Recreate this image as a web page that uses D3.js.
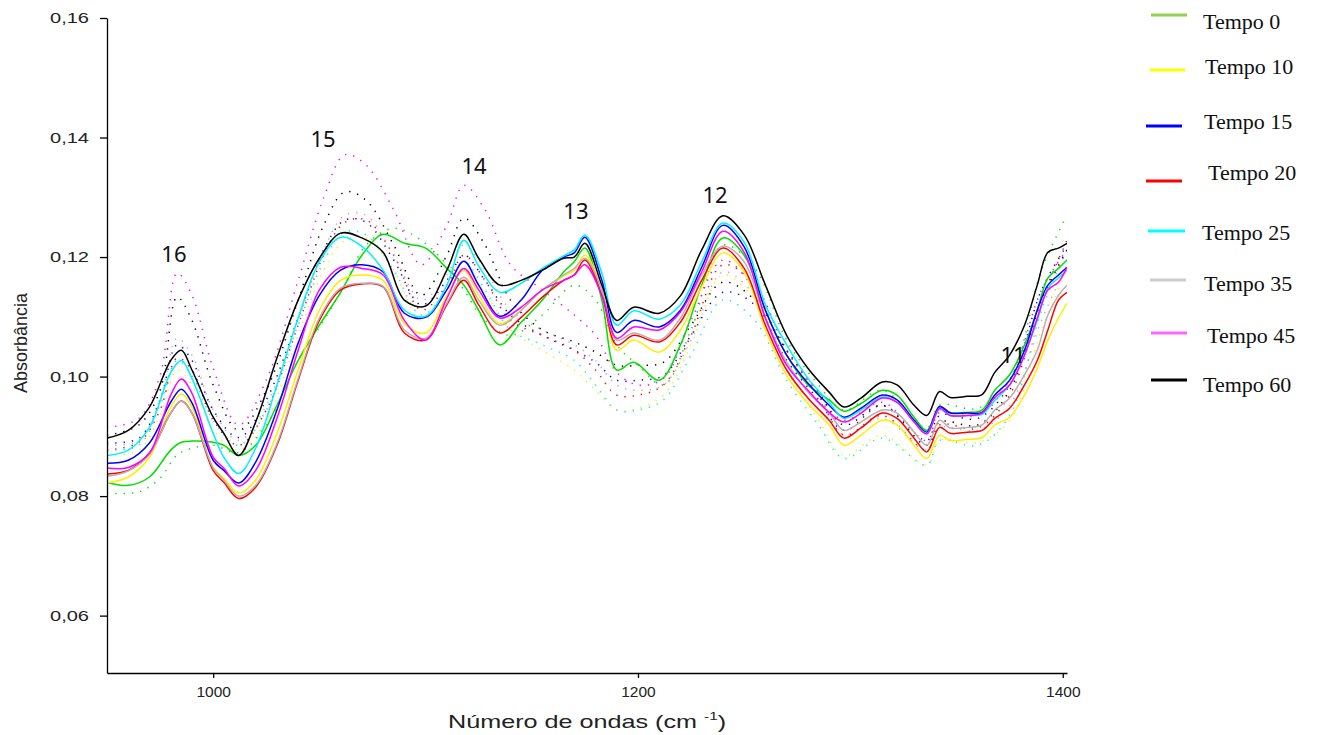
<!DOCTYPE html>
<html>
<head>
<meta charset="utf-8">
<script src="https://cdn.jsdelivr.net/npm/d3@7"></script>
<style>
  html, body { margin: 0; padding: 0; background: #fff; }
  svg { display: block; }
</style>
</head>
<body>
<svg id="chart"></svg>
<script>
(function() {

    // Data
    const seriesNames = ['Tempo 0', 'Tempo 10', 'Tempo 15', 'Tempo 20', 'Tempo 25', 'Tempo 35', 'Tempo 45', 'Tempo 60'];

    const wavenumbers = [950, 960, 970, 980, 985, 990, 1000, 1005, 1012, 1020,
        1030, 1040, 1050, 1060, 1070, 1080, 1090, 1100, 1110, 1118,
        1125, 1135, 1145, 1155, 1165, 1170, 1175, 1183, 1190, 1198,
        1210, 1220, 1230, 1240, 1250, 1260, 1270, 1280, 1290, 1297,
        1305, 1315, 1322, 1330, 1336, 1342, 1347, 1355, 1362, 1368,
        1375, 1382, 1388, 1393, 1398, 1402];

    const tempo0 = [0.0823, 0.0818, 0.0832, 0.0877, 0.0890, 0.0892, 0.0890, 0.0885, 0.0868, 0.0885,
        0.0952, 0.1027, 0.1086, 0.1141, 0.1203, 0.1238, 0.1223, 0.1215, 0.1181, 0.1153,
        0.1111, 0.1053, 0.1091, 0.1128, 0.1175, 0.1192, 0.1215, 0.1128, 0.1011, 0.1024,
        0.0994, 0.1053, 0.1153, 0.1232, 0.1203, 0.1111, 0.1036, 0.0986, 0.0961, 0.0942,
        0.0955, 0.0977, 0.0969, 0.0932, 0.0910, 0.0950, 0.0940, 0.0940, 0.0944, 0.0977,
        0.1003, 0.1053, 0.1111, 0.1165, 0.1181, 0.1195];

    const tempo10 = [0.0822, 0.0832, 0.0865, 0.0949, 0.0971, 0.0949, 0.0848, 0.0830, 0.0805, 0.0827,
        0.0905, 0.1011, 0.1111, 0.1161, 0.1170, 0.1161, 0.1089, 0.1073, 0.1136, 0.1178,
        0.1136, 0.1089, 0.1111, 0.1145, 0.1168, 0.1178, 0.1203, 0.1145, 0.1044, 0.1061,
        0.1041, 0.1078, 0.1150, 0.1207, 0.1175, 0.1078, 0.1002, 0.0955, 0.0919, 0.0885,
        0.0902, 0.0927, 0.0919, 0.0885, 0.0863, 0.0902, 0.0893, 0.0895, 0.0898, 0.0919,
        0.0932, 0.0969, 0.1014, 0.1061, 0.1098, 0.1123];

    const tempo15 = [0.0855, 0.0860, 0.0889, 0.0957, 0.0979, 0.0956, 0.0860, 0.0843, 0.0822, 0.0857,
        0.0944, 0.1056, 0.1136, 0.1178, 0.1187, 0.1175, 0.1106, 0.1099, 0.1145, 0.1193,
        0.1153, 0.1101, 0.1128, 0.1178, 0.1200, 0.1207, 0.1233, 0.1161, 0.1074, 0.1094,
        0.1083, 0.1111, 0.1183, 0.1253, 0.1217, 0.1111, 0.1036, 0.0989, 0.0952, 0.0932,
        0.0947, 0.0969, 0.0961, 0.0927, 0.0907, 0.0950, 0.0939, 0.0939, 0.0940, 0.0969,
        0.0994, 0.1044, 0.1111, 0.1153, 0.1170, 0.1183];

    const tempo20 = [0.0837, 0.0843, 0.0872, 0.0939, 0.0959, 0.0939, 0.0843, 0.0823, 0.0796, 0.0815,
        0.0885, 0.0994, 0.1094, 0.1145, 0.1155, 0.1150, 0.1073, 0.1061, 0.1120, 0.1161,
        0.1120, 0.1073, 0.1099, 0.1133, 0.1161, 0.1170, 0.1195, 0.1136, 0.1053, 0.1069,
        0.1058, 0.1091, 0.1161, 0.1215, 0.1181, 0.1086, 0.1011, 0.0964, 0.0927, 0.0897,
        0.0914, 0.0939, 0.0930, 0.0897, 0.0874, 0.0915, 0.0905, 0.0907, 0.0910, 0.0930,
        0.0947, 0.0986, 0.1027, 0.1078, 0.1128, 0.1141];

    const tempo25 = [0.0868, 0.0877, 0.0915, 0.1007, 0.1027, 0.0997, 0.0905, 0.0865, 0.0838, 0.0880,
        0.0986, 0.1098, 0.1192, 0.1233, 0.1218, 0.1178, 0.1111, 0.1101, 0.1153, 0.1228,
        0.1185, 0.1141, 0.1156, 0.1181, 0.1202, 0.1212, 0.1237, 0.1173, 0.1086, 0.1110,
        0.1096, 0.1120, 0.1192, 0.1257, 0.1225, 0.1120, 0.1053, 0.0997, 0.0957, 0.0930,
        0.0944, 0.0966, 0.0957, 0.0924, 0.0905, 0.0945, 0.0935, 0.0935, 0.0937, 0.0960,
        0.0986, 0.1036, 0.1094, 0.1148, 0.1165, 0.1178];

    const tempo35 = [0.0833, 0.0842, 0.0870, 0.0939, 0.0959, 0.0939, 0.0847, 0.0827, 0.0800, 0.0818,
        0.0888, 0.0997, 0.1098, 0.1148, 0.1156, 0.1151, 0.1078, 0.1064, 0.1123, 0.1166,
        0.1128, 0.1086, 0.1111, 0.1145, 0.1170, 0.1181, 0.1198, 0.1145, 0.1061, 0.1073,
        0.1061, 0.1098, 0.1170, 0.1218, 0.1192, 0.1098, 0.1024, 0.0974, 0.0939, 0.0910,
        0.0924, 0.0944, 0.0939, 0.0907, 0.0885, 0.0927, 0.0914, 0.0915, 0.0919, 0.0944,
        0.0964, 0.1003, 0.1044, 0.1103, 0.1136, 0.1153];

    const tempo45 = [0.0847, 0.0848, 0.0872, 0.0969, 0.0996, 0.0972, 0.0865, 0.0847, 0.0817, 0.0843,
        0.0930, 0.1044, 0.1145, 0.1183, 0.1181, 0.1170, 0.1094, 0.1061, 0.1131, 0.1181,
        0.1145, 0.1098, 0.1116, 0.1145, 0.1161, 0.1170, 0.1187, 0.1136, 0.1064, 0.1083,
        0.1078, 0.1108, 0.1175, 0.1243, 0.1208, 0.1098, 0.1019, 0.0977, 0.0940, 0.0924,
        0.0939, 0.0964, 0.0957, 0.0924, 0.0904, 0.0947, 0.0935, 0.0935, 0.0939, 0.0965,
        0.0986, 0.1036, 0.1098, 0.1145, 0.1158, 0.1183];

    const tempo60 = [0.0897, 0.0910, 0.0949, 0.1027, 0.1044, 0.1011, 0.0932, 0.0905, 0.0868, 0.0924,
        0.1031, 0.1128, 0.1198, 0.1240, 0.1232, 0.1208, 0.1128, 0.1118, 0.1178, 0.1238,
        0.1198, 0.1153, 0.1161, 0.1178, 0.1198, 0.1200, 0.1223, 0.1153, 0.1094, 0.1116,
        0.1106, 0.1135, 0.1212, 0.1269, 0.1237, 0.1153, 0.1069, 0.1014, 0.0974, 0.0949,
        0.0964, 0.0991, 0.0986, 0.0952, 0.0935, 0.0975, 0.0965, 0.0967, 0.0970, 0.1007,
        0.1036, 0.1086, 0.1153, 0.1208, 0.1215, 0.1223];

    // dotted companions of every series
    const wavenumbersDotted = [950, 965, 975, 983, 990, 1000, 1012, 1025, 1040, 1052,
        1062, 1072, 1085, 1098, 1110, 1118, 1128, 1140, 1155, 1170,
        1180, 1190, 1200, 1212, 1225, 1240, 1255, 1270, 1285, 1297,
        1315, 1336, 1342, 1360, 1375, 1390, 1402];

    const tempo0Dotted = [0.0805, 0.0807, 0.0830, 0.0869, 0.0880, 0.0885, 0.0873, 0.0919, 0.1027, 0.1094,
        0.1153, 0.1220, 0.1248, 0.1228, 0.1187, 0.1145, 0.1094, 0.1069, 0.1103, 0.1153,
        0.1128, 0.1053, 0.1019, 0.0986, 0.1078, 0.1220, 0.1181, 0.1061, 0.0986, 0.0944,
        0.0977, 0.0914, 0.0952, 0.0947, 0.0994, 0.1178, 0.1270];

    const tempo10Dotted = [0.0868, 0.0877, 0.0935, 0.1011, 0.0986, 0.0910, 0.0877, 0.0927, 0.1069, 0.1178,
        0.1228, 0.1232, 0.1178, 0.1094, 0.1136, 0.1181, 0.1141, 0.1078, 0.1044, 0.1011,
        0.0977, 0.0944, 0.0947, 0.0969, 0.1053, 0.1170, 0.1128, 0.1011, 0.0927, 0.0868,
        0.0902, 0.0852, 0.0893, 0.0890, 0.0927, 0.1078, 0.1178];

    const tempo15Dotted = [0.0889, 0.0897, 0.0961, 0.1053, 0.1027, 0.0944, 0.0898, 0.0961, 0.1098, 0.1212,
        0.1262, 0.1258, 0.1195, 0.1120, 0.1161, 0.1203, 0.1161, 0.1103, 0.1069, 0.1044,
        0.1024, 0.0994, 0.0994, 0.1002, 0.1069, 0.1141, 0.1120, 0.1027, 0.0961, 0.0910,
        0.0952, 0.0893, 0.0935, 0.0930, 0.0986, 0.1145, 0.1220];

    const tempo20Dotted = [0.0877, 0.0890, 0.0944, 0.1031, 0.1011, 0.0927, 0.0885, 0.0944, 0.1086, 0.1203,
        0.1258, 0.1262, 0.1203, 0.1111, 0.1153, 0.1203, 0.1161, 0.1094, 0.1069, 0.1044,
        0.1011, 0.0969, 0.0969, 0.0986, 0.1069, 0.1187, 0.1153, 0.1044, 0.0969, 0.0902,
        0.0935, 0.0877, 0.0919, 0.0914, 0.0969, 0.1128, 0.1228];

    const tempo25Dotted = [0.0877, 0.0885, 0.0952, 0.1027, 0.1002, 0.0927, 0.0885, 0.0944, 0.1086, 0.1192,
        0.1242, 0.1237, 0.1178, 0.1103, 0.1145, 0.1192, 0.1145, 0.1078, 0.1053, 0.1027,
        0.0986, 0.0944, 0.0944, 0.0961, 0.1036, 0.1128, 0.1094, 0.0994, 0.0919, 0.0863,
        0.0897, 0.0852, 0.0893, 0.0885, 0.0935, 0.1111, 0.1212];

    const tempo35Dotted = [0.0885, 0.0893, 0.0961, 0.1064, 0.1036, 0.0944, 0.0893, 0.0952, 0.1094, 0.1212,
        0.1270, 0.1270, 0.1203, 0.1128, 0.1170, 0.1220, 0.1178, 0.1111, 0.1078, 0.1053,
        0.1027, 0.0986, 0.0977, 0.0986, 0.1061, 0.1175, 0.1136, 0.1036, 0.0969, 0.0902,
        0.0930, 0.0877, 0.0914, 0.0910, 0.0952, 0.1094, 0.1187];

    const tempo45Dotted = [0.0915, 0.0930, 0.1002, 0.1173, 0.1136, 0.1014, 0.0919, 0.0994, 0.1161, 0.1299,
        0.1371, 0.1354, 0.1279, 0.1187, 0.1253, 0.1320, 0.1279, 0.1187, 0.1145, 0.1103,
        0.1069, 0.1007, 0.0986, 0.0997, 0.1094, 0.1195, 0.1145, 0.1036, 0.0969, 0.0927,
        0.0957, 0.0893, 0.0940, 0.0935, 0.0994, 0.1145, 0.1212];

    const tempo60Dotted = [0.0902, 0.0919, 0.0977, 0.1133, 0.1094, 0.0986, 0.0910, 0.0977, 0.1128, 0.1253,
        0.1309, 0.1295, 0.1220, 0.1136, 0.1203, 0.1265, 0.1220, 0.1128, 0.1078, 0.1058,
        0.1041, 0.1019, 0.1019, 0.1024, 0.1086, 0.1158, 0.1128, 0.1044, 0.0974, 0.0919,
        0.0952, 0.0885, 0.0924, 0.0919, 0.0977, 0.1128, 0.1212];

    const solidSeries = [tempo0, tempo10, tempo15, tempo20, tempo25, tempo35, tempo45, tempo60];
    const dottedSeries = [tempo0Dotted, tempo10Dotted, tempo15Dotted, tempo20Dotted,
        tempo25Dotted, tempo35Dotted, tempo45Dotted, tempo60Dotted];

    const xTicks = [1000, 1200, 1400];
    const yTicks = [0.06, 0.08, 0.10, 0.12, 0.14, 0.16];

    const peakLabels = ['16', '15', '14', '13', '12', '11'];
    const peakWavenumbers = [981.5, 1051.7, 1122.8, 1170.8, 1236.3, 1376.6];
    const peakAbsorbances = [0.1192, 0.1384, 0.1339, 0.1264, 0.1290, 0.1023];

    // Styles
    const lineColors = ['#00e000', '#ffee00', '#0000ff', '#ff0000', '#00f0ff', '#bcaeae', '#ff00ff', '#000000'];
    const legendColors = ['#92d050', '#ffff00', '#0000ff', '#ff0000', '#00ffff', '#cccccc', '#ff66ff', '#000000'];
    // legend rows are not evenly spaced in the original
    const legendLineY = [15, 70, 126, 181, 231, 280, 333, 380];
    const legendLineX = [[1151, 1187], [1150, 1185], [1146, 1182], [1146, 1182], [1148, 1185], [1150, 1186], [1151, 1187], [1151, 1187]];
    const legendTextX = [1203, 1205, 1204, 1208, 1202, 1204, 1207, 1203];
    const legendTextY = [29, 74, 129, 180, 240, 291, 343, 392];

    const w = 1317;
    const h = 735;
    const left = 107, right = 1067, top = 18, bottom = 673;

    const svg = d3.select('#chart')
        .attr('width', w)
        .attr('height', h)
        .style('font-family', '"Liberation Sans", Arial, sans-serif');

    // Scales
    const scaleX = d3.scaleLinear().domain([950, 1402]).range([left, right]);
    const scaleY = d3.scaleLinear().domain([0.0504, 0.16]).range([bottom, top]);

    svg.append('defs').append('clipPath')
        .attr('id', 'plot-clip')
        .append('rect')
        .attr('x', left)
        .attr('y', top - 5)
        .attr('width', right - left)
        .attr('height', bottom - top + 5);

    const plot = svg.append('g').attr('clip-path', 'url(#plot-clip)');

    const makeLine = (xs) => d3.line()
        .x((d, i) => scaleX(xs[i]))
        .y(d => scaleY(d))
        .curve(d3.curveCatmullRom.alpha(0.5));

    // dotted lines underneath
    const dottedLine = makeLine(wavenumbersDotted);
    plot.selectAll('path.dotted')
        .data(dottedSeries)
        .enter()
        .append('path')
        .attr('class', 'dotted')
        .attr('d', d => dottedLine(d))
        .attr('fill', 'none')
        .attr('stroke', (d, i) => lineColors[i])
        .attr('stroke-width', 1.5)
        .attr('stroke-dasharray', '1.3 7');

    // solid lines
    const solidLine = makeLine(wavenumbers);
    plot.selectAll('path.solid')
        .data(solidSeries)
        .enter()
        .append('path')
        .attr('class', 'solid')
        .attr('d', d => solidLine(d))
        .attr('fill', 'none')
        .attr('stroke', (d, i) => lineColors[i])
        .attr('stroke-width', 1.5);

    // Axes
    const xAxis = d3.axisBottom(scaleX)
        .tickValues(xTicks)
        .tickSize(5)
        .tickSizeOuter(0)
        .tickPadding(8)
        .tickFormat(d3.format('d'));

    const yAxis = d3.axisLeft(scaleY)
        .tickValues(yTicks)
        .tickSize(7)
        .tickSizeOuter(0)
        .tickPadding(11)
        .tickFormat(d => d3.format('.2f')(d).replace('.', ','));

    const gx = svg.append('g')
        .attr('transform', `translate(0, ${bottom})`)
        .call(xAxis);
    gx.selectAll('text')
        .attr('font-size', 15.5)
        .attr('fill', '#222')
        .attr('font-family', '"Liberation Sans", Arial, sans-serif');

    const gy = svg.append('g')
        .attr('transform', `translate(${left}, 0)`)
        .call(yAxis);
    gy.selectAll('text')
        .attr('font-size', 15)
        .attr('fill', '#222')
        .attr('font-family', '"Liberation Sans", Arial, sans-serif')
        .attr('textLength', 39)
        .attr('lengthAdjust', 'spacingAndGlyphs');

    svg.selectAll('.domain, .tick line').attr('stroke', '#000').attr('stroke-width', 1.3);

    // Axis titles (the original title is stretched sideways)
    const xTitle = svg.append('text')
        .attr('transform', 'translate(448, 728) scale(1.4, 1)')
        .attr('font-size', 18)
        .attr('fill', '#222');
    xTitle.append('tspan').text('Número de ondas (cm ');
    xTitle.append('tspan').attr('font-size', 11).attr('dy', -8).text('-1');
    xTitle.append('tspan').attr('dy', 8).text(')');

    svg.append('text')
        .attr('transform', 'translate(27, 343) rotate(-90)')
        .attr('text-anchor', 'middle')
        .attr('font-size', 18)
        .attr('fill', '#222')
        .text('Absorbância');

    // Peak numbers
    svg.selectAll('text.peak')
        .data(peakLabels)
        .enter()
        .append('text')
        .attr('class', 'peak')
        .attr('x', (d, i) => scaleX(peakWavenumbers[i]))
        .attr('y', (d, i) => scaleY(peakAbsorbances[i]))
        .attr('text-anchor', 'middle')
        .attr('font-family', '"Noto Sans", "Open Sans", sans-serif')
        .attr('font-size', 22)
        .attr('fill', '#111')
        .text(d => d);

    // Legend
    const legend = svg.append('g');
    seriesNames.forEach((name, i) => {
        legend.append('line')
            .attr('x1', legendLineX[i][0])
            .attr('x2', legendLineX[i][1])
            .attr('y1', legendLineY[i])
            .attr('y2', legendLineY[i])
            .attr('stroke', legendColors[i])
            .attr('stroke-width', 3);
        legend.append('text')
            .attr('x', legendTextX[i])
            .attr('y', legendTextY[i])
            .attr('font-family', '"Liberation Serif", "Times New Roman", serif')
            .attr('font-size', 22)
            .attr('fill', '#111')
            .text(name);
    });

})();
</script>
</body>
</html>
